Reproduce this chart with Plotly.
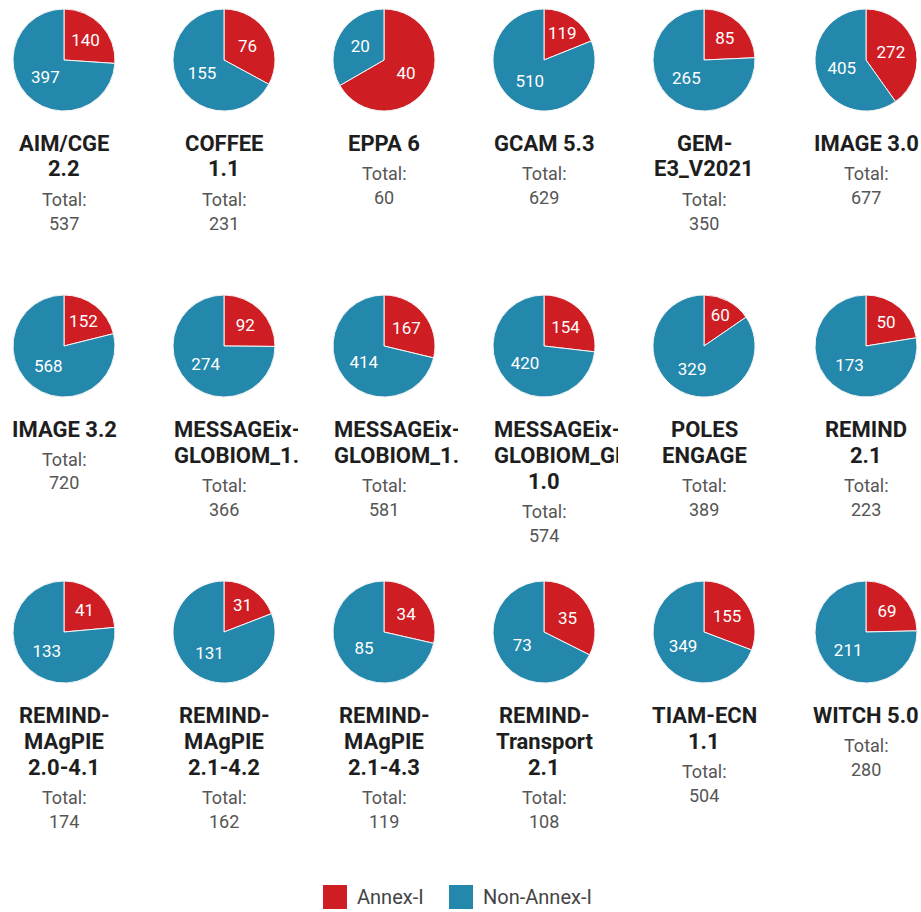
import plotly.graph_objects as go

# Scenario counts per model, split by country group
title_lines = [
    ["AIM/CGE", "2.2"], ["COFFEE", "1.1"], ["EPPA 6"], ["GCAM 5.3"],
    ["GEM-", "E3_V2021"], ["IMAGE 3.0"],
    ["IMAGE 3.2"], ["MESSAGEix-", "GLOBIOM_1.1"], ["MESSAGEix-", "GLOBIOM_1.2"],
    ["MESSAGEix-", "GLOBIOM_GEI", "1.0"], ["POLES", "ENGAGE"], ["REMIND", "2.1"],
    ["REMIND-", "MAgPIE", "2.0-4.1"], ["REMIND-", "MAgPIE", "2.1-4.2"],
    ["REMIND-", "MAgPIE", "2.1-4.3"], ["REMIND-", "Transport", "2.1"],
    ["TIAM-ECN", "1.1"], ["WITCH 5.0"],
]
annex1 = [140, 76, 40, 119, 85, 272, 152, 92, 167, 154, 60, 50, 41, 31, 34, 35, 155, 69]
non_annex1 = [397, 155, 20, 510, 265, 405, 568, 274, 414, 420, 329, 173, 133, 131, 85, 73, 349, 211]
totals = [537, 231, 60, 629, 350, 677, 720, 366, 581, 574, 389, 223, 174, 162, 119, 108, 504, 280]
groups = ["Annex-I", "Non-Annex-I"]

RED = "#CF1D24"
BLUE = "#2388AB"
W, H = 921, 912
COL_X = [64, 224, 384, 544, 704, 866]
ROW_Y = [60, 346, 632]
R = 51

fig = go.Figure()
annotations = []

for i, lines in enumerate(title_lines):
    cx = COL_X[i % 6]
    cy = ROW_Y[i // 6]
    fig.add_trace(go.Pie(
        labels=groups,
        values=[annex1[i], non_annex1[i]],
        sort=False,
        direction="clockwise",
        rotation=0,
        marker=dict(colors=[RED, BLUE], line=dict(color="#f4f4f4", width=1)),
        textinfo="value",
        textposition="inside",
        insidetextorientation="horizontal",
        textfont=dict(family="Roboto", size=17, color="#ffffff"),
        domain=dict(x=[(cx - R) / W, (cx + R) / W],
                    y=[1 - (cy + R) / H, 1 - (cy - R) / H]),
        showlegend=False,
        hoverinfo="label+value",
    ))

    # model name, one annotation per line; long words overflow to the right and are clipped
    y = cy + 83
    for line in lines:
        if len(line) >= 10:
            annotations.append(dict(
                x=(cx - R - 1) / W, y=1 - y / H, xref="paper", yref="paper",
                xanchor="left", yanchor="middle", align="left", width=124,
                text=line, showarrow=False,
                font=dict(family="Roboto", size=22, color="#1e1e1e", weight="bold"),
            ))
        else:
            annotations.append(dict(
                x=cx / W, y=1 - y / H, xref="paper", yref="paper",
                xanchor="center", yanchor="middle", text=line, showarrow=False,
                font=dict(family="Roboto", size=22, color="#1e1e1e", weight="bold"),
            ))
        y += 26
    y += 4
    for t in ["Total:", str(totals[i])]:
        annotations.append(dict(
            x=cx / W, y=1 - y / H, xref="paper", yref="paper",
            xanchor="center", yanchor="middle", text=t, showarrow=False,
            font=dict(family="Roboto", size=18, color="#555555"),
        ))
        y += 24

# legend swatches and labels
shapes = []
for x0, color, label in [(323, RED, groups[0]), (449, BLUE, groups[1])]:
    shapes.append(dict(type="rect", xref="paper", yref="paper",
                       x0=x0 / W, x1=(x0 + 24) / W, y0=1 - 909 / H, y1=1 - 885 / H,
                       fillcolor=color, line=dict(width=0)))
    annotations.append(dict(
        x=(x0 + 32) / W, y=1 - 897 / H, xref="paper", yref="paper",
        xanchor="left", yanchor="middle", text=label, showarrow=False,
        font=dict(family="Roboto", size=20, color="#444444"),
    ))

fig.update_layout(
    width=W, height=H,
    margin=dict(l=0, r=0, t=0, b=0),
    paper_bgcolor="white", plot_bgcolor="white",
    annotations=annotations, shapes=shapes,
    uniformtext=dict(minsize=17, mode="show"),
    showlegend=False,
)

fig.write_html("out.html")
